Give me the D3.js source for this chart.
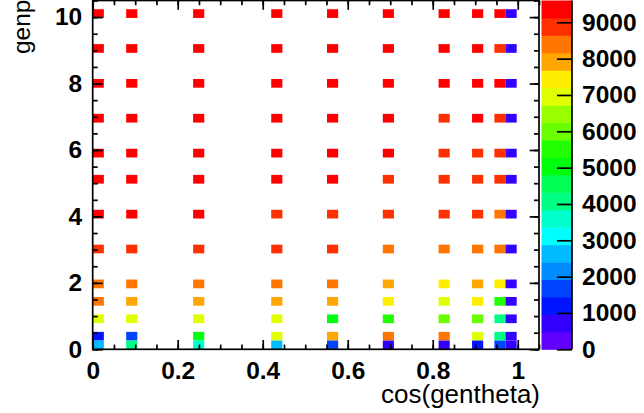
<!DOCTYPE html>
<html>
<head>
<meta charset="utf-8">
<script src="https://cdn.jsdelivr.net/npm/d3@7/dist/d3.min.js"></script>
<style>
  html, body { margin: 0; padding: 0; background: #ffffff; }
  svg { display: block; font-family: "Liberation Sans", Arial, Helvetica, sans-serif; }
</style>
</head>
<body>
<svg id="chart" width="644" height="413"></svg>
<script>
// Generated cos(theta) points (columns) and momentum points (rows, top to bottom)
const cosTheta = [0.0, 0.087, 0.259, 0.423, 0.574, 0.707, 0.819, 0.906, 0.966, 0.996];
const genP = [10, 9, 8, 7, 6, 5, 4, 3, 2, 1.5, 1, 0.5, 0.2];

// Entries per (genp, cos) cell, one row per genP value
const counts = [
  [9450, 9500, 9480, 9460, 9420, 9400, 9350, 9300, 9200, 750],
  [9450, 9480, 9450, 9430, 9400, 9350, 9300, 9200, 9050, 740],
  [9450, 9450, 9430, 9400, 9380, 9330, 9250, 9180, 9150, 730],
  [9430, 9430, 9400, 9380, 9330, 9250, 9100, 9150, 9000, 720],
  [9400, 9400, 9380, 9300, 9250, 9180, 9050, 9000, 8900, 700],
  [9380, 9350, 9300, 9250, 9150, 9100, 8950, 8900, 8800, 690],
  [9300, 9280, 9200, 9100, 9050, 8950, 8850, 8750, 8500, 670],
  [9100, 9050, 9000, 8950, 8800, 8600, 8400, 8350, 8250, 640],
  [8500, 8450, 8400, 8350, 8200, 7900, 7500, 7800, 7400, 600],
  [8300, 8000, 7950, 7900, 7800, 7400, 7000, 7300, 5400, 580],
  [7000, 6950, 6900, 6850, 5050, 5400, 6000, 5900, 4100, 550],
  [1250, 1700, 5100, 6900, 7800, 8300, 8300, 6900, 4000, 520],
  [2650, 4050, 3500, 2600, 1650, 700, 650, 1200, 1650, 500]
];

// Histogram binning and axis ranges
const xRange = [0, 1.05];
const yRange = [0, 10.5];
const zRange = [0, 9600];
const nBinsX = 40;
const nBinsY = 40;

// Tick values and labels
const xTicks = [0, 0.2, 0.4, 0.6, 0.8, 1];
const xMinorStep = 0.05;
const yTicks = [0, 2, 4, 6, 8, 10];
const yMinorStep = 0.5;
const zTicks = [0, 1000, 2000, 3000, 4000, 5000, 6000, 7000, 8000, 9000];
const xTitle = "cos(gentheta)";
const yTitle = "genp";

// Rainbow palette, 20 contour levels (violet -> red)
const palette = [
  "#6200ff", "#3300ff", "#0014ff", "#0044ff", "#008bff",
  "#00bbff", "#00fffc", "#00ffcc", "#00ff85", "#00ff55",
  "#00ff0e", "#22ff00", "#69ff00", "#99ff00", "#e0ff00",
  "#ffee00", "#ffa700", "#ff7700", "#ff3000", "#ff0000"
];

const frame = { left: 92.7, right: 539, top: 0.5, bottom: 349.3 };
const pal = { left: 541.5, right: 572, top: 0.5, bottom: 349.3 };
const lineW = 1.7;
const labelSize = 24.5;
const titleSize = 26;

const svg = d3.select("#chart");

const x = d3.scaleLinear().domain(xRange).range([frame.left, frame.right]);
const y = d3.scaleLinear().domain(yRange).range([frame.bottom, frame.top]);
const color = d3.scaleQuantize().domain(zRange).range(palette);

const bwX = (xRange[1] - xRange[0]) / nBinsX;
const bwY = (yRange[1] - yRange[0]) / nBinsY;

// Flatten cells and place each into its histogram bin
const cells = [];
genP.forEach((p, r) => {
  cosTheta.forEach((c, k) => {
    const ix = Math.floor((c - xRange[0]) / bwX);
    const iy = Math.floor((p - yRange[0]) / bwY);
    cells.push({ x0: xRange[0] + ix * bwX, x1: xRange[0] + (ix + 1) * bwX,
                 y0: yRange[0] + iy * bwY, y1: yRange[0] + (iy + 1) * bwY,
                 v: counts[r][k] });
  });
});

svg.append("g").attr("class", "cells")
  .selectAll("rect").data(cells).join("rect")
  .attr("x", d => x(d.x0))
  .attr("y", d => y(d.y1))
  .attr("width", d => x(d.x1) - x(d.x0))
  .attr("height", d => y(d.y0) - y(d.y1))
  .attr("fill", d => color(d.v));

// Axis helpers
function styleAxis(g) {
  g.select(".domain").remove();
  g.selectAll("line").attr("stroke", "#000").attr("stroke-width", lineW);
  g.selectAll("text").attr("fill", "#000")
    .attr("font-family", "'Liberation Sans', Arial, sans-serif")
    .attr("font-weight", "bold")
    .attr("font-size", labelSize);
}
const xMinor = d3.range(0, xRange[1] + 1e-9, xMinorStep);
const yMinor = d3.range(0, yRange[1] + 1e-9, yMinorStep);
const fmtX = d => d === 0 ? "0" : d === 1 ? "1" : d3.format(".1f")(d);

// Bottom axis
svg.append("g").attr("transform", `translate(0,${frame.bottom})`)
  .call(d3.axisBottom(x).tickValues(xMinor).tickSize(-4.7).tickFormat(""))
  .call(styleAxis);
svg.append("g").attr("transform", `translate(0,${frame.bottom})`)
  .call(d3.axisBottom(x).tickValues(xTicks).tickSizeInner(-9.3).tickSizeOuter(0)
        .tickPadding(12).tickFormat(fmtX))
  .call(styleAxis);
// Top axis (ticks only)
svg.append("g").attr("transform", `translate(0,${frame.top})`)
  .call(d3.axisTop(x).tickValues(xMinor).tickSize(-4.7).tickFormat(""))
  .call(styleAxis);
svg.append("g").attr("transform", `translate(0,${frame.top})`)
  .call(d3.axisTop(x).tickValues(xTicks).tickSize(-9.3).tickFormat(""))
  .call(styleAxis);

// Left axis
svg.append("g").attr("transform", `translate(${frame.left},0)`)
  .call(d3.axisLeft(y).tickValues(yMinor).tickSize(-5).tickFormat(""))
  .call(styleAxis);
svg.append("g").attr("transform", `translate(${frame.left},0)`)
  .call(d3.axisLeft(y).tickValues(yTicks).tickSizeInner(-10).tickSizeOuter(0)
        .tickPadding(10.5).tickFormat(d3.format("d")))
  .call(styleAxis);
// Right axis (ticks only)
svg.append("g").attr("transform", `translate(${frame.right},0)`)
  .call(d3.axisRight(y).tickValues(yMinor).tickSize(-5).tickFormat(""))
  .call(styleAxis);
svg.append("g").attr("transform", `translate(${frame.right},0)`)
  .call(d3.axisRight(y).tickValues(yTicks).tickSize(-9.3).tickFormat(""))
  .call(styleAxis);

// Frame
svg.append("rect")
  .attr("x", frame.left).attr("y", frame.top)
  .attr("width", frame.right - frame.left).attr("height", frame.bottom - frame.top)
  .attr("fill", "none").attr("stroke", "#000").attr("stroke-width", lineW);

// Colour palette
const z = d3.scaleLinear().domain(zRange).range([pal.bottom, pal.top]);
const levels = palette.map((c, i) => ({
  lo: zRange[0] + i * (zRange[1] - zRange[0]) / palette.length,
  hi: zRange[0] + (i + 1) * (zRange[1] - zRange[0]) / palette.length,
  c
}));
svg.append("g").selectAll("rect").data(levels).join("rect")
  .attr("x", pal.left).attr("width", pal.right - pal.left)
  .attr("y", d => z(d.hi)).attr("height", d => z(d.lo) - z(d.hi) + 0.5)
  .attr("fill", d => d.c);

svg.append("g").attr("transform", `translate(${pal.right},0)`)
  .call(d3.axisRight(z).tickValues(zTicks).tickSizeInner(-15).tickSizeOuter(0)
        .tickPadding(10).tickFormat(d3.format("d")))
  .call(styleAxis);
svg.append("line")
  .attr("x1", pal.right).attr("x2", pal.right)
  .attr("y1", pal.top).attr("y2", pal.bottom)
  .attr("stroke", "#000").attr("stroke-width", lineW);

// Axis titles
svg.append("text")
  .attr("x", frame.right + 1).attr("y", 403)
  .attr("text-anchor", "end")
  .attr("font-size", titleSize)
  .attr("fill", "#000")
  .text(xTitle);
svg.append("text")
  .attr("transform", `translate(30,${frame.top - 1}) rotate(-90)`)
  .attr("text-anchor", "end")
  .attr("font-size", titleSize - 1.5)
  .attr("fill", "#000")
  .text(yTitle);
</script>
</body>
</html>
